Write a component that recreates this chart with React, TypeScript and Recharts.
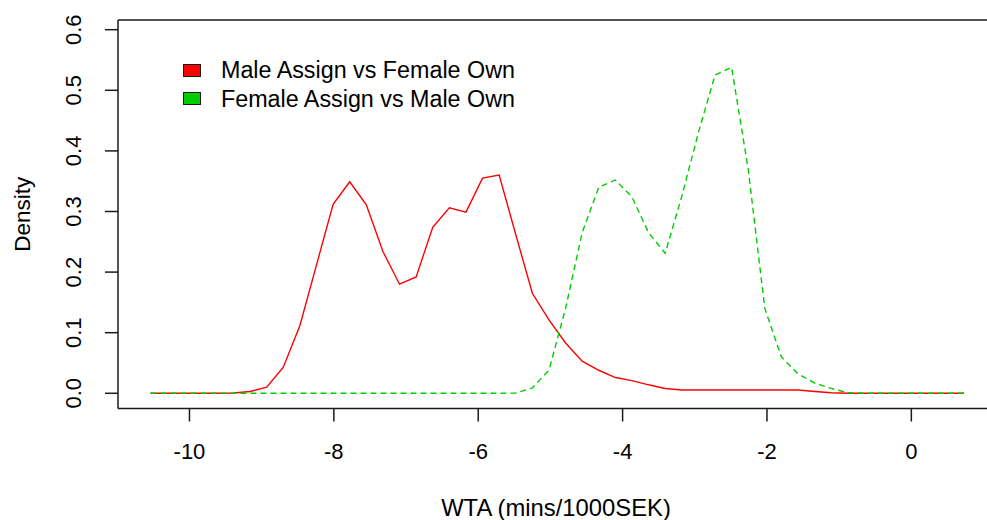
import { LineChart, Line, XAxis, YAxis, Legend, Label } from 'recharts';

// grid of the two density estimates (WTA, mins/1000SEK)
const wta = [
  -10.54, -10.31, -10.08, -9.85, -9.62, -9.39, -9.16, -8.93, -8.7, -8.47,
  -8.24, -8.01, -7.78, -7.55, -7.32, -7.09, -6.86, -6.63, -6.4, -6.17,
  -5.94, -5.71, -5.48, -5.25, -5.02, -4.79, -4.56, -4.33, -4.1, -3.87,
  -3.64, -3.41, -3.18, -2.95, -2.72, -2.49, -2.26, -2.03, -1.8, -1.57,
  -1.34, -1.11, -0.88, -0.65, -0.42, -0.19, 0.04, 0.27, 0.5, 0.73,
];

const maleAssign = [
  0, 0, 0, 0, 0, 0.0005, 0.003, 0.01, 0.043, 0.112,
  0.212, 0.312, 0.349, 0.311, 0.234, 0.18, 0.192, 0.274, 0.306, 0.299,
  0.355, 0.36, 0.262, 0.165, 0.121, 0.083, 0.053, 0.038, 0.026, 0.021,
  0.014, 0.008, 0.0055, 0.0055, 0.0055, 0.0055, 0.0055, 0.0055, 0.0055, 0.0055,
  0.003, 0.001, 0, 0, 0, 0, 0, 0, 0, 0,
];

const femaleAssign = [
  0, 0, 0, 0, 0, 0, 0, 0, 0, 0,
  0, 0, 0, 0, 0, 0, 0, 0, 0, 0,
  0, 0, 0.0005, 0.009, 0.038, 0.14, 0.265, 0.34, 0.352, 0.324,
  0.265, 0.231, 0.325, 0.43, 0.525, 0.538, 0.37, 0.14, 0.06, 0.032,
  0.017, 0.008, 0.001, 0, 0, 0, 0, 0, 0, 0,
];

const seriesNames = ['Male Assign vs Female Own', 'Female Assign vs Male Own'];
const seriesColors = ['#FF0000', '#00CD00'];

const xTicks = [-10, -8, -6, -4, -2, 0];
const yTicks = [0, 0.1, 0.2, 0.3, 0.4, 0.5, 0.6];

const data = wta.map((x, i) => ({ x, male: maleAssign[i], female: femaleAssign[i] }));

const FONT = '"Liberation Sans", Arial, sans-serif';
const INK = '#1a1a1a';

function YTick(props: any) {
  const { x, y, payload } = props;
  const bx = x - 24;
  return (
    <text
      x={bx}
      y={y}
      transform={`rotate(-90 ${bx} ${y})`}
      textAnchor="middle"
      fontSize={22}
      fontFamily={FONT}
      fill="#000"
    >
      {payload.value.toFixed(1)}
    </text>
  );
}

function LegendBox() {
  return (
    <div style={{ fontFamily: FONT, fontSize: 23.3, lineHeight: '28.5px', color: '#000' }}>
      {seriesNames.map((name, i) => (
        <div key={name} style={{ display: 'flex', alignItems: 'center', whiteSpace: 'nowrap' }}>
          <span
            style={{
              display: 'inline-block',
              width: 16,
              height: 11,
              background: seriesColors[i],
              border: `1.5px solid ${INK}`,
              marginRight: 20,
            }}
          />
          {name}
        </div>
      ))}
    </div>
  );
}

export default function App() {
  return (
    <div style={{ position: 'absolute', left: 0, top: 0, background: '#fff' }}>
      <LineChart width={987} height={520} data={data} margin={{ top: 19, right: 0, bottom: 0, left: 0 }}>
        <XAxis
          dataKey="x"
          type="number"
          domain={[-10.99, 1.048]}
          allowDataOverflow
          ticks={xTicks}
          height={111.5}
          tickSize={13}
          tickMargin={22}
          stroke={INK}
          strokeWidth={1.5}
          tick={{ fill: '#000', fontSize: 22, fontFamily: FONT }}
        >
          <Label
            content={(p: any) => {
              const vb = p.viewBox;
              return (
                <text
                  x={vb.x + 438}
                  y={vb.y + vb.height - 4}
                  textAnchor="middle"
                  fontSize={23.8}
                  fontFamily={FONT}
                  fill="#000"
                >
                  WTA (mins/1000SEK)
                </text>
              );
            }}
          />
        </XAxis>
        <XAxis
          xAxisId="top"
          orientation="top"
          dataKey="x"
          type="number"
          domain={[-10.99, 1.048]}
          allowDataOverflow
          height={1}
          tick={false}
          tickLine={false}
          axisLine={{ stroke: INK, strokeWidth: 1.5 }}
        />
        <YAxis
          type="number"
          domain={[-0.0251, 0.616]}
          allowDataOverflow
          ticks={yTicks}
          width={118}
          tickSize={13}
          tickMargin={0}
          stroke={INK}
          strokeWidth={1.5}
          tick={<YTick />}
        >
          <Label
            content={(p: any) => {
              const vb = p.viewBox;
              const cy = vb.y + vb.height / 2;
              return (
                <text
                  x={30}
                  y={cy}
                  transform={`rotate(-90 30 ${cy})`}
                  textAnchor="middle"
                  fontSize={22.5}
                  fontFamily={FONT}
                  fill="#000"
                >
                  Density
                </text>
              );
            }}
          />
        </YAxis>
        <Legend
          layout="horizontal"
          align="center"
          verticalAlign="middle"
          content={() => <LegendBox />}
          wrapperStyle={{ left: 183, top: 56, width: 'auto', height: 'auto' }}
        />
        <Line
          type="linear"
          dataKey="male"
          name={seriesNames[0]}
          stroke={seriesColors[0]}
          strokeWidth={1.4}
          dot={false}
          activeDot={false}
          isAnimationActive={false}
        />
        <Line
          type="linear"
          dataKey="female"
          name={seriesNames[1]}
          stroke={seriesColors[1]}
          strokeWidth={1.4}
          strokeDasharray="6 4"
          dot={false}
          activeDot={false}
          isAnimationActive={false}
        />
      </LineChart>
    </div>
  );
}
